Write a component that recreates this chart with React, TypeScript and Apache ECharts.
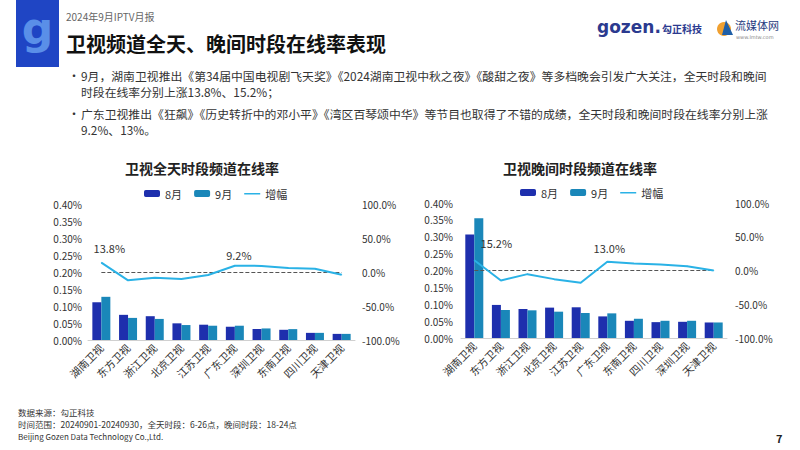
import React, { useEffect, useRef } from "react";
import * as echarts from "echarts";

const allDayCategories = ["湖南卫视", "东方卫视", "浙江卫视", "北京卫视", "江苏卫视", "广东卫视", "深圳卫视", "东南卫视", "四川卫视", "天津卫视"];
const allDayAug = [0.111, 0.074, 0.070, 0.049, 0.045, 0.039, 0.032, 0.030, 0.021, 0.018];
const allDaySep = [0.127, 0.065, 0.062, 0.044, 0.042, 0.042, 0.034, 0.032, 0.021, 0.018];
const allDayGrowth = [13.8, -12.3, -8.4, -10.3, -4.4, 9.2, 9.0, 5.9, 4.9, -3.9];

const eveningCategories = ["湖南卫视", "东方卫视", "浙江卫视", "北京卫视", "江苏卫视", "广东卫视", "东南卫视", "四川卫视", "深圳卫视", "天津卫视"];
const eveningAug = [0.307, 0.098, 0.086, 0.090, 0.091, 0.064, 0.051, 0.047, 0.048, 0.046];
const eveningSep = [0.355, 0.083, 0.082, 0.078, 0.074, 0.073, 0.057, 0.051, 0.051, 0.046];
const eveningGrowth = [15.2, -14.8, -5.4, -12.8, -18.2, 13.0, 10.4, 8.9, 6.4, 0.0];

const legendNames = ["8月", "9月", "增幅"];
const leftTicks = { min: 0, max: 0.4, interval: 0.05 };
const rightTicks = { min: -100, max: 100, interval: 50 };

const FONT = "'Noto Sans CJK SC', 'Noto Sans', sans-serif";
const C_AUG = "#1e2fad";
const C_SEP = "#1a87b9";
const C_LINE = "#2ab2e6";
const LINE_ICON = "path://M0,0 L0.01,0 L0.01,0.01 Z M0,3 L16,3 L16,4.4 L0,4.4 Z M0,7 L0.01,7 L0.01,6.99 Z";

function lineData(values: number[], labelIdx: number[], offsets: Record<number, number[]>) {
  return values.map((v, i) =>
    labelIdx.includes(i)
      ? {
          value: v,
          label: {
            show: true,
            position: "top",
            formatter: v.toFixed(1) + "%",
            offset: offsets[i] || [0, 0],
            fontSize: 11,
            color: "#333",
            fontFamily: FONT,
          },
        }
      : v
  );
}

export default function App() {
  const ref = useRef<HTMLDivElement>(null);
  useEffect(() => {
    if (!ref.current) return;
    const chart = echarts.init(ref.current, undefined, { renderer: "svg" });

    const catAxis = (gridIndex: number, data: string[]) => ({
      type: "category",
      gridIndex,
      data,
      axisLine: { lineStyle: { color: "#d0d0d0" } },
      axisTick: { show: false },
      axisLabel: { rotate: 45, interval: 0, fontSize: 10.5, color: "#333", margin: 6, fontFamily: FONT },
    });
    const pctAxis = (gridIndex: number, margin: number) => ({
      type: "value",
      gridIndex,
      ...leftTicks,
      splitLine: { show: false },
      axisLine: { show: false },
      axisTick: { show: false },
      axisLabel: { fontSize: 10, color: "#333", margin, fontFamily: FONT, formatter: (v: number) => v.toFixed(2) + "%" },
    });
    const growthAxis = (gridIndex: number, margin: number) => ({
      type: "value",
      gridIndex,
      position: "right",
      ...rightTicks,
      splitLine: { show: false },
      axisLine: { show: false },
      axisTick: { show: false },
      axisLabel: { fontSize: 10, color: "#333", margin, fontFamily: FONT, formatter: (v: number) => v.toFixed(1) + "%" },
    });
    const zeroLine = {
      silent: true,
      symbol: ["none", "none"],
      label: { show: false },
      lineStyle: { color: "#555", type: "dashed", width: 1 },
      data: [[{ coord: [0, 0] }, { coord: [9.45, 0] }]],
    };
    const barS = (name: string, color: string, data: number[], xi: number, yi: number) => ({
      name,
      type: "bar",
      xAxisIndex: xi,
      yAxisIndex: yi,
      data,
      barWidth: 9,
      barGap: "0%",
      itemStyle: { color },
    });
    const lineS = (data: any[], xi: number, yi: number) => ({
      name: "增幅",
      type: "line",
      xAxisIndex: xi,
      yAxisIndex: yi,
      symbol: "circle",
      symbolSize: 1,
      showSymbol: true,
      showAllSymbol: true,
      lineStyle: { width: 2, color: C_LINE },
      itemStyle: { color: C_LINE },
      data,
      markLine: zeroLine,
      z: 5,
    });

    const t = (text: string, x: number, y: number, style: any = {}) => ({
      type: "text",
      x,
      y,
      style: { text, fontFamily: FONT, fontSize: 12, fill: "#333", textVerticalAlign: "middle", ...style },
    });

    const legendData = [
      { name: legendNames[0] },
      { name: legendNames[1] },
      { name: legendNames[2], icon: LINE_ICON },
    ];

    chart.setOption({
      animation: false,
      backgroundColor: "#fff",
      grid: [
        { left: 88, right: 445, top: 204, height: 136 },
        { left: 461, right: 73, top: 203, height: 135 },
      ],
      legend: [
        { data: legendData, left: 139, top: 183, itemWidth: 16, itemHeight: 7, itemGap: 12, textStyle: { fontSize: 11, color: "#333", fontFamily: FONT } },
        { data: legendData, left: 515, top: 182, itemWidth: 16, itemHeight: 7, itemGap: 12, textStyle: { fontSize: 11, color: "#333", fontFamily: FONT } },
      ],
      xAxis: [catAxis(0, allDayCategories), catAxis(1, eveningCategories)],
      yAxis: [pctAxis(0, 6), growthAxis(0, 7), pctAxis(1, 8), growthAxis(1, 8)],
      series: [
        barS("8月", C_AUG, allDayAug, 0, 0),
        barS("9月", C_SEP, allDaySep, 0, 0),
        lineS(lineData(allDayGrowth, [0, 5], { 0: [8, -4], 5: [4, 0] }), 0, 1),
        barS("8月", C_AUG, eveningAug, 1, 2),
        barS("9月", C_SEP, eveningSep, 1, 2),
        lineS(lineData(eveningGrowth, [0, 5], { 0: [22, -6], 5: [2, -3] }), 1, 3),
      ],
      graphic: [
        { type: "rect", shape: { x: 16, y: 0, width: 43, height: 67 }, style: { fill: "#1f45c4" } },
        { type: "text", x: 37.5, y: 28, style: { text: "g", fontFamily: "DejaVu Sans", fontWeight: "bold", fontSize: 44, fill: "#5a8fe8", textAlign: "center", textVerticalAlign: "middle" } },
        t("2024年9月IPTV月报", 66, 16.5, { fontSize: 10, fill: "#666" }),
        t("卫视频道全天、晚间时段在线率表现", 66, 43, { fontSize: 20, fontWeight: "bold", fill: "#111" }),
        t("gozen.", 597, 27, { fontFamily: "DejaVu Sans", fontSize: 17, fontWeight: "bold", fill: "#2b3a8f" }),
        t("勾正科技", 662, 28, { fontSize: 10, fontWeight: "bold", fill: "#2b3a8f" }),
        { type: "circle", shape: { cx: 724, cy: 29, r: 7 }, style: { fill: "#f0a030" } },
        { type: "polygon", shape: { points: [[726, 20], [733, 35], [722, 35]] }, style: { fill: "#1f5fa8" } },
        t("流媒体网", 735, 24.5, { fontSize: 11, fill: "#1f3b80" }),
        t("www.lmtw.com", 736, 36.5, { fontSize: 5, fill: "#888", fontFamily: "DejaVu Sans" }),
        t("•", 68, 75, { fontSize: 12 }),
        t("9月，湖南卫视推出《第34届中国电视剧飞天奖》《2024湖南卫视中秋之夜》《酸甜之夜》等多档晚会引发广大关注，全天时段和晚间", 81, 75, { fontSize: 11.85 }),
        t("时段在线率分别上涨13.8%、15.2%；", 81, 91, { fontSize: 11.85 }),
        t("•", 68, 113, { fontSize: 12 }),
        t("广东卫视推出《狂飙》《历史转折中的邓小平》《湾区百琴颂中华》等节目也取得了不错的成绩，全天时段和晚间时段在线率分别上涨", 81, 113, { fontSize: 11.85 }),
        t("9.2%、13%。", 81, 129, { fontSize: 11.85 }),
        t("卫视全天时段频道在线率", 202, 168, { fontSize: 14, fontWeight: "bold", fill: "#222", textAlign: "center" }),
        t("卫视晚间时段频道在线率", 580, 168, { fontSize: 14, fontWeight: "bold", fill: "#222", textAlign: "center" }),
        t("数据来源：勾正科技", 18, 412, { fontSize: 8.5, fill: "#333" }),
        t("时间范围：20240901-20240930，全天时段：6-26点，晚间时段：18-24点", 18, 424, { fontSize: 8.5, fill: "#333" }),
        t("Beijing Gozen Data Technology Co.,Ltd.", 18, 436, { fontSize: 8, fill: "#333" }),
        t("7", 776, 438, { fontSize: 11, fontWeight: "bold", fill: "#222" }),
      ],
    });
    return () => chart.dispose();
  }, []);
  return <div ref={ref} style={{ position: "fixed", left: 0, top: 0, width: 800, height: 450, background: "#fff" }} />;
}
